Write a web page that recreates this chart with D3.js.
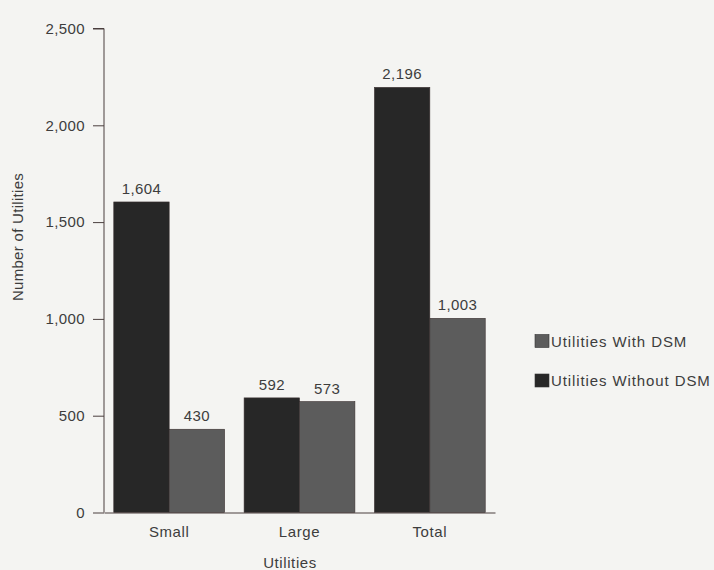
<!DOCTYPE html>
<html><head><meta charset="utf-8">
<script src="https://d3js.org/d3.v7.min.js"></script>
<style>
html,body{margin:0;padding:0;background:#f4f4f2;}
svg{display:block;font-family:"Liberation Sans",Arial,sans-serif;}
</style></head>
<body>
<script>
const categories = ["Small", "Large", "Total"];
const seriesNames = ["Utilities Without DSM", "Utilities With DSM"];
const withoutDSM = [1604, 592, 2196];
const withDSM = [430, 573, 1003];
const yTicks = [0, 500, 1000, 1500, 2000, 2500];
const legendOrder = ["Utilities With DSM", "Utilities Without DSM"];

const W = 714, H = 570;
const FS = 15;
const txt = "#3d3d3d";
const colors = {"Utilities Without DSM": "#272727", "Utilities With DSM": "#5c5c5c"};
const data = categories.map((c, i) => ({cat: c, vals: [
  {s: seriesNames[0], v: withoutDSM[i]},
  {s: seriesNames[1], v: withDSM[i]}
]}));

const svg = d3.select("body").append("svg").attr("width", W).attr("height", H);
const x0 = d3.scaleBand().domain(categories).range([104, 495]).paddingInner(0.15).paddingOuter(0.075);
const x1 = d3.scaleBand().domain(seriesNames).range([0, x0.bandwidth()]);
const y = d3.scaleLinear().domain([0, 2500]).range([512.5, 28.5]);

// bars
const g = svg.append("g");
const groups = g.selectAll("g.grp").data(data).join("g")
  .attr("transform", d => `translate(${x0(d.cat)},0)`);
groups.selectAll("rect").data(d => d.vals).join("rect")
  .attr("x", d => x1(d.s)).attr("width", x1.bandwidth())
  .attr("y", d => y(d.v)).attr("height", d => y(0) - y(d.v))
  .attr("fill", d => colors[d.s]).attr("stroke", "#3a3030").attr("stroke-width", 0.6);
groups.selectAll("text").data(d => d.vals).join("text")
  .attr("x", d => x1(d.s) + x1.bandwidth() / 2).attr("y", d => y(d.v) - 8)
  .attr("text-anchor", "middle").attr("font-size", FS).attr("letter-spacing", 0.4).attr("fill", txt)
  .text(d => d3.format(",")(d.v));

// y axis
const yAxis = d3.axisLeft(y).tickValues(yTicks).tickFormat(d3.format(",")).tickSize(11).tickPadding(8);
const ya = svg.append("g").attr("transform", "translate(104,0)").call(yAxis);
ya.select(".domain").attr("stroke", "#4a3f3f").attr("d", "M-11,28.5H0V512.5");
ya.selectAll(".tick line").attr("stroke", "#4a3f3f");
ya.selectAll(".tick text").attr("font-size", FS).attr("letter-spacing", 0.4).attr("fill", txt)
  .attr("font-family", "Liberation Sans, Arial, sans-serif");

// x axis
const xAxis = d3.axisBottom(x0).tickSize(0).tickPadding(14);
const xa = svg.append("g").attr("transform", "translate(0,512.5)").call(xAxis);
xa.select(".domain").attr("stroke", "#4a3f3f");
xa.selectAll(".tick text").attr("font-size", FS).attr("letter-spacing", 0.6).attr("fill", txt)
  .attr("font-family", "Liberation Sans, Arial, sans-serif");

// axis titles
svg.append("text").attr("x", 290).attr("y", 568).attr("text-anchor", "middle")
  .attr("font-size", FS).attr("letter-spacing", 0.6).attr("fill", txt).text("Utilities");
svg.append("text").attr("transform", "translate(23,237) rotate(-90)").attr("text-anchor", "middle")
  .attr("font-size", FS).attr("letter-spacing", 0.3).attr("fill", txt).text("Number of Utilities");

// legend
const leg = svg.append("g");
const li = leg.selectAll("g").data(legendOrder).join("g")
  .attr("transform", (d, i) => `translate(535,${341 + i * 39.5})`);
li.append("rect").attr("x", 0).attr("y", -6.5).attr("width", 14).attr("height", 13)
  .attr("fill", d => colors[d]).attr("stroke", "#333").attr("stroke-width", 0.6);
li.append("text").attr("x", 16).attr("y", 5.5).attr("font-size", FS).attr("letter-spacing", 0.9)
  .attr("fill", txt).text(d => d);
</script>
</body></html>
